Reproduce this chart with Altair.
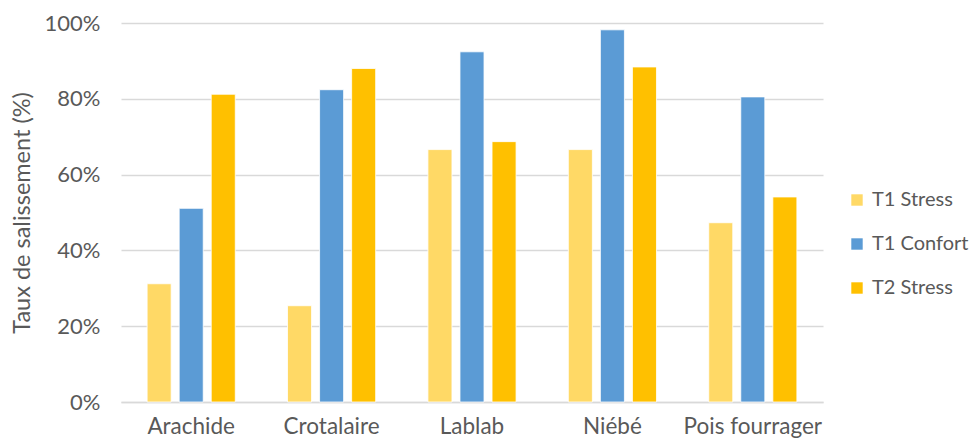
import altair as alt
import pandas as pd

categories = ["Arachide", "Crotalaire", "Lablab", "Niébé", "Pois fourrager"]
series = ["T1 Stress", "T1 Confort", "T2 Stress"]
t1_stress = [0.312, 0.254, 0.666, 0.666, 0.473]
t1_confort = [0.511, 0.824, 0.924, 0.982, 0.805]
t2_stress = [0.812, 0.880, 0.687, 0.884, 0.541]
colors = ["#FFD966", "#5B9BD5", "#FFC000"]

rows = []
for i, c in enumerate(categories):
    for s, vals in zip(series, [t1_stress, t1_confort, t2_stress]):
        rows.append({"cat": c, "serie": s, "val": vals[i]})
df = pd.DataFrame(rows)

FONT = "Lato"
GRAY = "#595959"

chart = alt.Chart(df).mark_bar(stroke="white", strokeWidth=0.8).encode(
    x=alt.X("cat:N", sort=categories, title=None,
            scale=alt.Scale(paddingInner=0, paddingOuter=0),
            axis=alt.Axis(labelAngle=0, ticks=False, domain=True, domainColor="#D9D9D9",
                          domainWidth=1.5, labelFont=FONT, labelFontSize=22.5,
                          labelColor=GRAY, labelPadding=13, grid=False)),
    xOffset=alt.XOffset("serie:N", sort=series,
                        scale=alt.Scale(paddingInner=0.25, paddingOuter=0.815)),
    y=alt.Y("val:Q", title="Taux de salissement (%)",
            scale=alt.Scale(domain=[0, 1], nice=False),
            axis=alt.Axis(format=".0%", values=[0, 0.2, 0.4, 0.6, 0.8, 1.0],
                          ticks=False, domain=False, gridColor="#D9D9D9", gridWidth=1.5,
                          labelFont=FONT, labelFontSize=22, labelColor=GRAY, labelPadding=21,
                          titleFont=FONT, titleFontSize=23.5, titleColor=GRAY,
                          titleFontWeight="normal", titleX=-87)),
    color=alt.Color("serie:N", sort=series,
                    scale=alt.Scale(domain=series, range=colors),
                    legend=alt.Legend(title=None, orient="none", legendX=726, legendY=167,
                                      symbolType="square", symbolSize=130,
                                      symbolStrokeWidth=0, labelFont=FONT,
                                      labelFontSize=20, labelColor=GRAY, rowPadding=24,
                                      labelOffset=5, labelLimit=200)),
).properties(
    width=702, height=379,
    background="white",
    autosize=alt.AutoSizeParams(type="none"),
    padding={"left": 121, "top": 23, "right": 150, "bottom": 43},
).configure_view(stroke=None, strokeWidth=0)

chart.save("out.html", embed_options={"renderer": "svg", "actions": False})
